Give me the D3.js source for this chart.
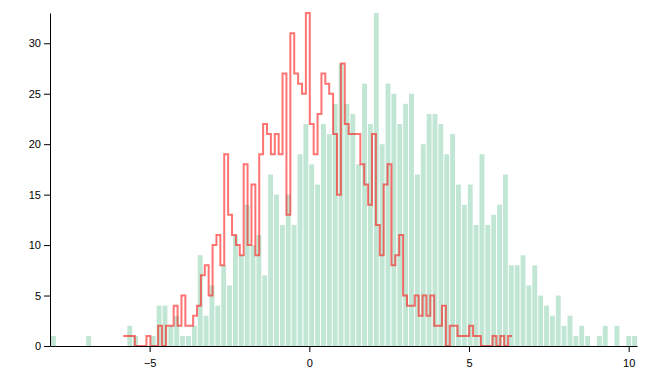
<!DOCTYPE html>
<html>
<head>
<meta charset="utf-8">
<script src="https://d3js.org/d3.v7.min.js"></script>
<style>
  html, body { margin: 0; padding: 0; background: #fff; }
  svg { display: block; }
  .axis text { font-family: "Liberation Sans", Arial, Helvetica, sans-serif; font-size: 11px; fill: #000; }
</style>
</head>
<body>
<div id="chart"></div>
<script>
// ---- data ----
const greenExtent = [-8.12, 10.26];
const greenCounts = [
  1, 0, 0, 0, 0, 0, 1, 0, 0, 0,
  0, 0, 0, 2, 1, 0, 0, 1, 4, 4,
  2, 3, 1, 1, 2, 9, 3, 6, 4, 8,
  6, 11, 9, 14, 10, 11, 7, 17, 15, 12,
  15, 12, 19, 22, 18, 16, 22, 21, 24, 28,
  24, 23, 18, 26, 22, 33, 20, 26, 25, 22,
  24, 25, 17, 20, 23, 23, 22, 19, 21, 16,
  14, 16, 12, 19, 12, 13, 14, 17, 8, 8,
  9, 6, 8, 5, 4, 3, 5, 2, 3, 1,
  2, 1, 0, 1, 2, 0, 2, 0, 1, 1
];
const redExtent = [-5.83, 6.345];
const redCounts = [
  1, 1, 1, 0, 0, 0, 1, 0, 0, 2,
  0, 2, 2, 4, 2, 5, 2, 2, 3, 4,
  7, 8, 5, 10, 11, 8, 19, 13, 11, 10,
  9, 18, 10, 16, 9, 19, 22, 21, 19, 21,
  19, 27, 13, 31, 27, 26, 25, 33, 22, 19,
  23, 27, 26, 25, 21, 15, 28, 22, 21, 21,
  21, 18, 16, 14, 21, 12, 9, 16, 18, 8,
  9, 11, 5, 4, 4, 5, 3, 5, 3, 5,
  2, 2, 4, 0, 2, 2, 1, 1, 1, 2,
  1, 1, 0, 0, 0, 1, 0, 1, 0, 1
];
const xTicks = [-5, 0, 5, 10];
const yTicks = [0, 5, 10, 15, 20, 25, 30];
const yMax = 33;

// ---- layout ----
const W = 666, H = 389;
const margin = {top: 13, right: 29, bottom: 43, left: 50};
const width = W - margin.left - margin.right;
const height = H - margin.top - margin.bottom;

const svg = d3.select("#chart").append("svg")
  .attr("width", W).attr("height", H);
const g = svg.append("g").attr("transform", `translate(${margin.left},${margin.top})`);

const x = d3.scaleLinear().domain(greenExtent).range([0, width]);
const y = d3.scaleLinear().domain([0, yMax]).range([height, 0]);

function makeBins(extent, counts) {
  const n = counts.length;
  const step = (extent[1] - extent[0]) / n;
  return counts.map((c, i) => ({
    x0: extent[0] + i * step,
    x1: extent[0] + (i + 1) * step,
    count: c
  }));
}

const greenBins = makeBins(greenExtent, greenCounts);
const redBins = makeBins(redExtent, redCounts);

// green histogram bars
g.append("g").selectAll("rect")
  .data(greenBins.filter(d => d.count > 0))
  .join("rect")
  .attr("x", d => x(d.x0) + 1)
  .attr("width", d => Math.max(0, x(d.x1) - x(d.x0) - 1))
  .attr("y", d => y(d.count))
  .attr("height", d => height - y(d.count))
  .attr("fill", "rgb(193,231,212)");

// red step line
const redPts = redBins.map(d => [d.x0, d.count]);
redPts.push([redBins[redBins.length - 1].x1, redBins[redBins.length - 1].count]);
const line = d3.line()
  .x(d => x(d[0]))
  .y(d => y(d[1]))
  .curve(d3.curveStepAfter);
g.append("path")
  .datum(redPts)
  .attr("d", line)
  .attr("fill", "none")
  .attr("stroke", "rgb(255,0,0)")
  .attr("stroke-opacity", 0.55)
  .attr("stroke-width", 2);

// axes
g.append("g")
  .attr("class", "axis")
  .attr("transform", `translate(0,${height})`)
  .call(d3.axisBottom(x).tickValues(xTicks).tickSizeOuter(0).tickPadding(7));

g.append("g")
  .attr("class", "axis")
  .call(d3.axisLeft(y).tickValues(yTicks).tickSizeOuter(0).tickPadding(3));
</script>
</body>
</html>
